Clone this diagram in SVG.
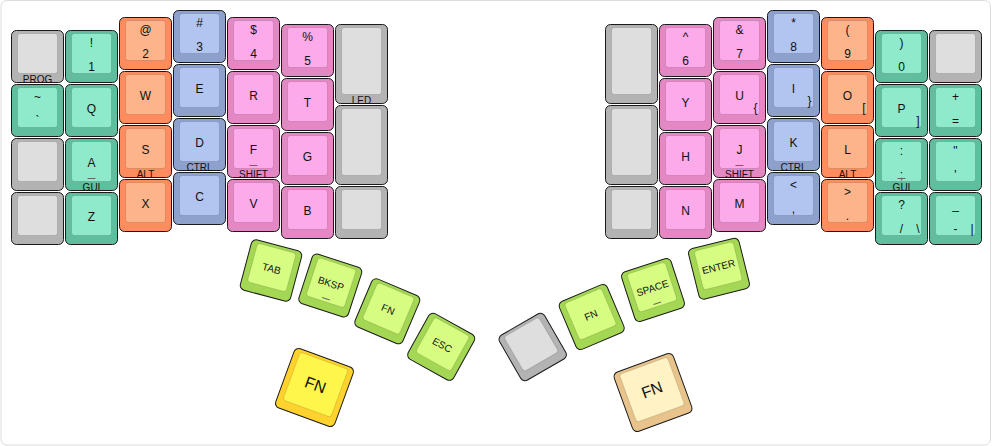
<svg xmlns="http://www.w3.org/2000/svg" width="992" height="446" viewBox="0 0 992 446">
<style>
.o{fill:var(--o);stroke:#1a1a1a;stroke-width:1}
.i{fill:var(--i);stroke:rgba(0,0,0,0.12);stroke-width:1}
.gy{--o:#b3b3b3;--i:#dedede}
.mt{--o:#60be9e;--i:#8eeaca}
.or{--o:#fe8c5e;--i:#feb48a}
.bl{--o:#8ea0cc;--i:#b2c4f0}
.pk{--o:#e488c4;--i:#fcaaea}
.lm{--o:#a4d854;--i:#d6fc82}
.yl{--o:#ffd22e;--i:#fff64c}
.bg{--o:#e8c48c;--i:#fff2c4}
text{font-family:"Liberation Sans",Arial,Helvetica,sans-serif;font-size:12px;text-anchor:middle;fill:#111}
.f{font-size:10px}
.s{font-size:10px}
.b{font-size:16px}
.r{text-anchor:end}
.h{stroke:#666;stroke-width:1}
</style>
<defs>
<g id="k1"><rect class="o" width="52" height="52" rx="5"/><rect class="i" x="6" y="3" width="40" height="40" rx="3"/></g>
<g id="k15"><rect class="o" width="52" height="79" rx="5"/><rect class="i" x="6" y="3" width="40" height="67" rx="3"/></g>
<g id="kt"><rect class="o" x="-26" y="-26" width="52" height="52" rx="5"/><rect class="i" x="-20" y="-23" width="40" height="40" rx="3"/></g>
<g id="kb"><rect class="o" x="-31.5" y="-31.5" width="63" height="63" rx="5"/><rect class="i" x="-25.5" y="-28.5" width="51" height="51" rx="3"/></g>
</defs>
<rect x="1" y="0.5" width="989.5" height="444.5" rx="6" fill="#fff" stroke="#dcdcdc"/>

<!-- Left half -->
<g id="k-prog" class="gy" transform="translate(11.5,30.5)"><use href="#k1"/><text class="f" x="26" y="52">PROG</text></g>
<g id="k-tilde" class="mt" transform="translate(11.5,84.5)"><use href="#k1"/><text x="26" y="16">~</text><text x="26" y="40">`</text></g>
<g id="k-l20" class="gy" transform="translate(11.5,138.5)"><use href="#k1"/></g>
<g id="k-l30" class="gy" transform="translate(11.5,192.5)"><use href="#k1"/></g>

<g id="k-1" class="mt" transform="translate(65.5,30.5)"><use href="#k1"/><text x="26" y="16">!</text><text x="26" y="40">1</text></g>
<g id="k-q" class="mt" transform="translate(65.5,84.5)"><use href="#k1"/><text x="26" y="28">Q</text></g>
<g id="k-a" class="mt" transform="translate(65.5,138.5)"><use href="#k1"/><text x="26" y="28">A</text><line class="h" x1="22" y1="40" x2="30" y2="40"/><text class="f" x="26" y="52">GUI</text></g>
<g id="k-z" class="mt" transform="translate(65.5,192.5)"><use href="#k1"/><text x="26" y="28">Z</text></g>

<g id="k-2" class="or" transform="translate(119.5,17.5)"><use href="#k1"/><text x="26" y="16">@</text><text x="26" y="40">2</text></g>
<g id="k-w" class="or" transform="translate(119.5,71.5)"><use href="#k1"/><text x="26" y="28">W</text></g>
<g id="k-s" class="or" transform="translate(119.5,125.5)"><use href="#k1"/><text x="26" y="28">S</text><text class="f" x="26" y="52">ALT</text></g>
<g id="k-x" class="or" transform="translate(119.5,179.5)"><use href="#k1"/><text x="26" y="28">X</text></g>

<g id="k-3" class="bl" transform="translate(173.5,10.5)"><use href="#k1"/><text x="26" y="16">#</text><text x="26" y="40">3</text></g>
<g id="k-e" class="bl" transform="translate(173.5,64.5)"><use href="#k1"/><text x="26" y="28">E</text></g>
<g id="k-d" class="bl" transform="translate(173.5,118.5)"><use href="#k1"/><text x="26" y="28">D</text><text class="f" x="26" y="52">CTRL</text></g>
<g id="k-c" class="bl" transform="translate(173.5,172.5)"><use href="#k1"/><text x="26" y="28">C</text></g>

<g id="k-4" class="pk" transform="translate(227.5,17.5)"><use href="#k1"/><text x="26" y="16">$</text><text x="26" y="40">4</text></g>
<g id="k-r" class="pk" transform="translate(227.5,71.5)"><use href="#k1"/><text x="26" y="28">R</text></g>
<g id="k-f" class="pk" transform="translate(227.5,125.5)"><use href="#k1"/><text x="26" y="28">F</text><line class="h" x1="22" y1="40" x2="30" y2="40"/><text class="f" x="26" y="52">SHIFT</text></g>
<g id="k-v" class="pk" transform="translate(227.5,179.5)"><use href="#k1"/><text x="26" y="28">V</text></g>

<g id="k-5" class="pk" transform="translate(281.5,24.5)"><use href="#k1"/><text x="26" y="16">%</text><text x="26" y="40">5</text></g>
<g id="k-t" class="pk" transform="translate(281.5,78.5)"><use href="#k1"/><text x="26" y="28">T</text></g>
<g id="k-g" class="pk" transform="translate(281.5,132.5)"><use href="#k1"/><text x="26" y="28">G</text></g>
<g id="k-b" class="pk" transform="translate(281.5,186.5)"><use href="#k1"/><text x="26" y="28">B</text></g>

<g id="k-led" class="gy" transform="translate(335.5,24.5)"><use href="#k15"/><text class="f" x="26" y="79.5">LED</text></g>
<g id="k-l61" class="gy" transform="translate(335.5,105.5)"><use href="#k15"/></g>
<g id="k-l62" class="gy" transform="translate(335.5,186.5)"><use href="#k1"/></g>

<!-- Right half -->
<g id="k-r00" class="gy" transform="translate(605.5,24.5)"><use href="#k15"/></g>
<g id="k-r01" class="gy" transform="translate(605.5,105.5)"><use href="#k15"/></g>
<g id="k-r02" class="gy" transform="translate(605.5,186.5)"><use href="#k1"/></g>

<g id="k-6" class="pk" transform="translate(659.5,24.5)"><use href="#k1"/><text x="26" y="16">^</text><text x="26" y="40">6</text></g>
<g id="k-y" class="pk" transform="translate(659.5,78.5)"><use href="#k1"/><text x="26" y="28">Y</text></g>
<g id="k-h" class="pk" transform="translate(659.5,132.5)"><use href="#k1"/><text x="26" y="28">H</text></g>
<g id="k-n" class="pk" transform="translate(659.5,186.5)"><use href="#k1"/><text x="26" y="28">N</text></g>

<g id="k-7" class="pk" transform="translate(713.5,17.5)"><use href="#k1"/><text x="26" y="16">&amp;</text><text x="26" y="40">7</text></g>
<g id="k-u" class="pk" transform="translate(713.5,71.5)"><use href="#k1"/><text x="26" y="28">U</text><text class="r" x="44" y="40">{</text></g>
<g id="k-j" class="pk" transform="translate(713.5,125.5)"><use href="#k1"/><text x="26" y="28">J</text><line class="h" x1="22" y1="40" x2="30" y2="40"/><text class="f" x="26" y="52">SHIFT</text></g>
<g id="k-m" class="pk" transform="translate(713.5,179.5)"><use href="#k1"/><text x="26" y="28">M</text></g>

<g id="k-8" class="bl" transform="translate(767.5,10.5)"><use href="#k1"/><text x="26" y="16">*</text><text x="26" y="40">8</text></g>
<g id="k-i" class="bl" transform="translate(767.5,64.5)"><use href="#k1"/><text x="26" y="28">I</text><text class="r" x="44" y="40">}</text></g>
<g id="k-k" class="bl" transform="translate(767.5,118.5)"><use href="#k1"/><text x="26" y="28">K</text><text class="f" x="26" y="52">CTRL</text></g>
<g id="k-comma" class="bl" transform="translate(767.5,172.5)"><use href="#k1"/><text x="26" y="16">&lt;</text><text x="26" y="40">,</text></g>

<g id="k-9" class="or" transform="translate(821.5,17.5)"><use href="#k1"/><text x="26" y="16">(</text><text x="26" y="40">9</text></g>
<g id="k-o" class="or" transform="translate(821.5,71.5)"><use href="#k1"/><text x="26" y="28">O</text><text class="r" x="44" y="40">[</text></g>
<g id="k-l" class="or" transform="translate(821.5,125.5)"><use href="#k1"/><text x="26" y="28">L</text><text class="f" x="26" y="52">ALT</text></g>
<g id="k-dot" class="or" transform="translate(821.5,179.5)"><use href="#k1"/><text x="26" y="16">&gt;</text><text x="26" y="40">.</text></g>

<g id="k-0" class="mt" transform="translate(875.5,30.5)"><use href="#k1"/><text x="26" y="16">)</text><text x="26" y="40">0</text></g>
<g id="k-p" class="mt" transform="translate(875.5,84.5)"><use href="#k1"/><text x="26" y="28">P</text><text class="r" x="44" y="40">]</text></g>
<g id="k-semi" class="mt" transform="translate(875.5,138.5)"><use href="#k1"/><text x="26" y="16">:</text><text x="26" y="40">;</text><line class="h" x1="22" y1="40" x2="30" y2="40"/><text class="f" x="26" y="52">GUI</text></g>
<g id="k-slash" class="mt" transform="translate(875.5,192.5)"><use href="#k1"/><text x="26" y="16">?</text><text x="26" y="40">/</text><text class="r" x="44" y="40">\</text></g>

<g id="k-r60" class="gy" transform="translate(929.5,30.5)"><use href="#k1"/></g>
<g id="k-eq" class="mt" transform="translate(929.5,84.5)"><use href="#k1"/><text x="26" y="16">+</text><text x="26" y="40">=</text></g>
<g id="k-quote" class="mt" transform="translate(929.5,138.5)"><use href="#k1"/><text x="26" y="16">"</text><text x="26" y="40">'</text></g>
<g id="k-minus" class="mt" transform="translate(929.5,192.5)"><use href="#k1"/><text x="26" y="16">_</text><text x="26" y="40">-</text><text class="r" x="44" y="40">|</text></g>

<!-- Left thumb -->
<g id="k-tab" class="lm" transform="translate(271,270.5) rotate(15)"><use href="#kt"/><text class="s" x="0" y="1.5">TAB</text></g>
<g id="k-bksp" class="lm" transform="translate(330.3,285.5) rotate(18)"><use href="#kt"/><text class="s" x="0" y="1.5">BKSP</text><line class="h" x1="-4" y1="14" x2="4" y2="14"/></g>
<g id="k-fnl" class="lm" transform="translate(387.3,311.3) rotate(23)"><use href="#kt"/><text class="s" x="0" y="1.5">FN</text></g>
<g id="k-esc" class="lm" transform="translate(441.2,346.8) rotate(29)"><use href="#kt"/><text class="s" x="0" y="1.5">ESC</text></g>
<g id="k-fnbigl" class="yl" transform="translate(314.5,387.5) rotate(20)"><use href="#kb"/><text class="b" x="0" y="2.7">FN</text></g>

<!-- Right thumb -->
<g id="k-rth0" class="gy" transform="translate(532.7,347) rotate(-30)"><use href="#kt"/></g>
<g id="k-fnr" class="lm" transform="translate(591.7,317) rotate(-23)"><use href="#kt"/><text class="s" x="0" y="1.5">FN</text></g>
<g id="k-space" class="lm" transform="translate(653,290) rotate(-18)"><use href="#kt"/><text class="s" x="0" y="1.5">SPACE</text><line class="h" x1="-4" y1="14" x2="4" y2="14"/></g>
<g id="k-enter" class="lm" transform="translate(719,268.7) rotate(-14)"><use href="#kt"/><text class="s" x="0" y="1.5">ENTER</text></g>
<g id="k-fnbigr" class="bg" transform="translate(653,392.5) rotate(-20)"><use href="#kb"/><text class="b" x="0" y="2.7">FN</text></g>
</svg>
